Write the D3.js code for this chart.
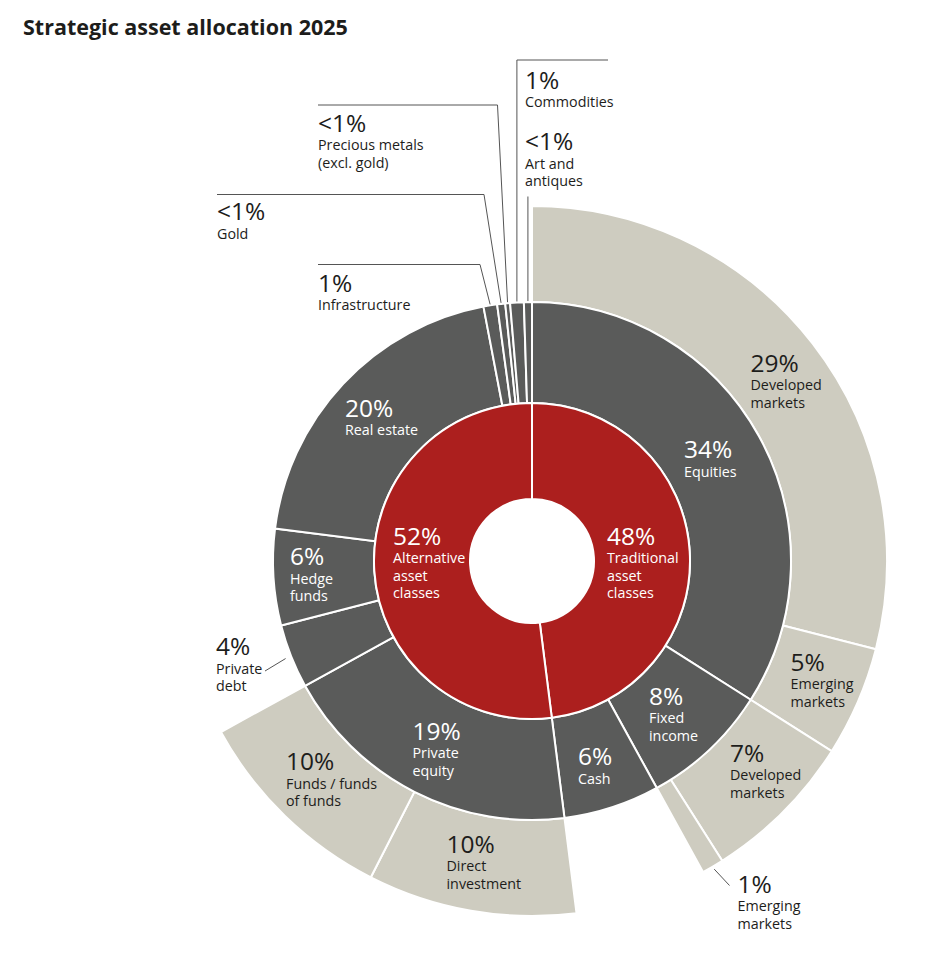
<!DOCTYPE html>
<html><head><meta charset="utf-8">
<script src="https://cdn.jsdelivr.net/npm/d3@7"></script>
<style>
body{margin:0;background:#fff}
svg text{font-family:"Open Sans","Noto Sans",sans-serif}
</style>
</head><body>
<svg id="chart" width="952" height="970"></svg>
<script>
// ---------- DATA ----------
const innerNames  = ["Traditional\nasset\nclasses", "Alternative\nasset\nclasses"];
const innerValues = [48, 52];
const innerLabels = ["48%", "52%"];

const middleNames   = ["Equities", "Fixed\nincome", "Cash", "Private\nequity", "Private\ndebt", "Hedge\nfunds",
                       "Real estate", "Infrastructure", "Gold", "Precious metals\n(excl. gold)", "Commodities", "Art and\nantiques"];
const middleParents = [0, 0, 0, 1, 1, 1, 1, 1, 1, 1, 1, 1];
const middleValues  = [34, 8, 6, 19, 4, 6, 20, 0.85, 0.5, 0.3, 0.85, 0.5];
const middleLabels  = ["34%", "8%", "6%", "19%", "4%", "6%", "20%", "1%", "<1%", "<1%", "1%", "<1%"];

const outerNames   = ["Developed\nmarkets", "Emerging\nmarkets", "Developed\nmarkets", "Emerging\nmarkets", "Direct\ninvestment", "Funds / funds\nof funds"];
const outerParents = [0, 0, 1, 1, 3, 3];
const outerValues  = [29, 5, 7, 1, 9.5, 9.5];
const outerLabels  = ["29%", "5%", "7%", "1%", "10%", "10%"];

// ---------- LAYOUT ----------
const W = 952, H = 970, cx = 532, cy = 561;
const R = {hole: 62, red: 158, mid: 259, out: 355};
const colors = {red: "#AC1F1E", mid: "#5A5B5A", out: "#CECCC0", ink: "#1d1d1b", leader: "#555"};

// label positions (percent baseline); leader descriptions
const innerPos  = [{x: 607, y: 544.5}, {x: 393, y: 544.5}];
const middlePos = [
  {x: 684, y: 458}, {x: 649, y: 704.5}, {x: 578, y: 765}, {x: 412.5, y: 739.5},
  {x: 216, y: 655, dark: true, leader: {from: [265, 671], r: 265}},
  {x: 290, y: 565}, {x: 345, y: 416.5},
  {x: 318, y: 291.5, dark: true, leader: {pts: [[318, 264.5], [480, 264.5]], r: 260}},
  {x: 217, y: 220, dark: true, leader: {pts: [[217, 194.5], [484, 194.5]], r: 260}},
  {x: 318, y: 131.5, dark: true, leader: {pts: [[318, 105], [497.5, 105]], r: 260}},
  {x: 525, y: 88.5, dark: true, leader: {pts: [[608, 60]], vy: 60, r: 260}},
  {x: 525, y: 150, dark: true, leader: {vy: 196.5, r: 260}}
];
const outerPos = [
  {x: 750.5, y: 371.5}, {x: 790.5, y: 670.5}, {x: 730, y: 761.5},
  {x: 737.5, y: 892.5, leader: {from: [729.5, 885.5], r: 358}},
  {x: 446.5, y: 852.5}, {x: 286, y: 770}
];

// ---------- SCALES ----------
const total = d3.sum(innerValues);
const ang = d3.scaleLinear().domain([0, total]).range([0, 2 * Math.PI]);

function cumulate(values) {
  let acc = 0;
  return values.map(v => { const s = acc; acc += v; return [s, acc]; });
}
const innerSpan = cumulate(innerValues);
const middleSpan = cumulate(middleValues);
const outerSpan = (() => {
  const used = {};
  return outerValues.map((v, i) => {
    const p = outerParents[i];
    const start = used[p] !== undefined ? used[p] : middleSpan[p][0];
    used[p] = start + v;
    return [start, start + v];
  });
})();

const svg = d3.select("#chart");
const g = svg.append("g").attr("transform", `translate(${cx},${cy})`);

function ring(spans, r0, r1, fill, cls) {
  const arc = d3.arc().innerRadius(r0).outerRadius(r1);
  g.selectAll("path." + cls).data(spans).join("path")
    .attr("class", cls)
    .attr("d", d => arc({startAngle: ang(d[0]), endAngle: ang(d[1])}))
    .attr("fill", fill)
    .attr("stroke", "#fff").attr("stroke-width", 2).attr("stroke-linejoin", "miter");
}
ring(outerSpan, R.mid, R.out, colors.out, "outer");
ring(middleSpan, R.red, R.mid, colors.mid, "middle");
ring(innerSpan, R.hole, R.red, colors.red, "inner");

function pt(span, r) {
  const a = ang((span[0] + span[1]) / 2);
  return [cx + r * Math.sin(a), cy - r * Math.cos(a)];
}

const line = d3.line();
const leaders = svg.append("g").attr("fill", "none").attr("stroke", colors.leader).attr("stroke-width", 1);

function labels(pct, names, pos, spans, color) {
  pct.forEach((p, i) => {
    const L = pos[i];
    const fill = L.dark === true ? colors.ink : color;
    const t = svg.append("text").attr("x", L.x).attr("y", L.y).attr("fill", fill);
    t.append("tspan").attr("x", L.x).attr("y", L.y)
      .attr("font-size", 24.5).attr("font-weight", 400).text(p);
    names[i].split("\n").forEach((s, k) => {
      t.append("tspan").attr("x", L.x).attr("y", L.y + 18.5 + 17.5 * k)
        .attr("font-size", 14.3).attr("font-weight", 400).text(s);
    });
    if (L.leader) {
      const ld = L.leader, end = pt(spans[i], ld.r);
      let pts;
      if (ld.from) pts = [ld.from, end];
      else {
        pts = (ld.pts || []).slice();
        if (ld.vy !== undefined) pts.push([end[0], ld.vy]);
        pts.push(end);
      }
      leaders.append("path").attr("d", line(pts));
    }
  });
}
labels(innerLabels, innerNames, innerPos, innerSpan, "#fff");
labels(middleLabels, middleNames, middlePos, middleSpan, "#fff");
labels(outerLabels, outerNames, outerPos, outerSpan, colors.ink);

svg.append("text").attr("x", 23).attr("y", 34.5)
  .attr("font-size", 21.5).attr("font-weight", 700).attr("fill", colors.ink)
  .text("Strategic asset allocation 2025");
</script>
</body></html>
